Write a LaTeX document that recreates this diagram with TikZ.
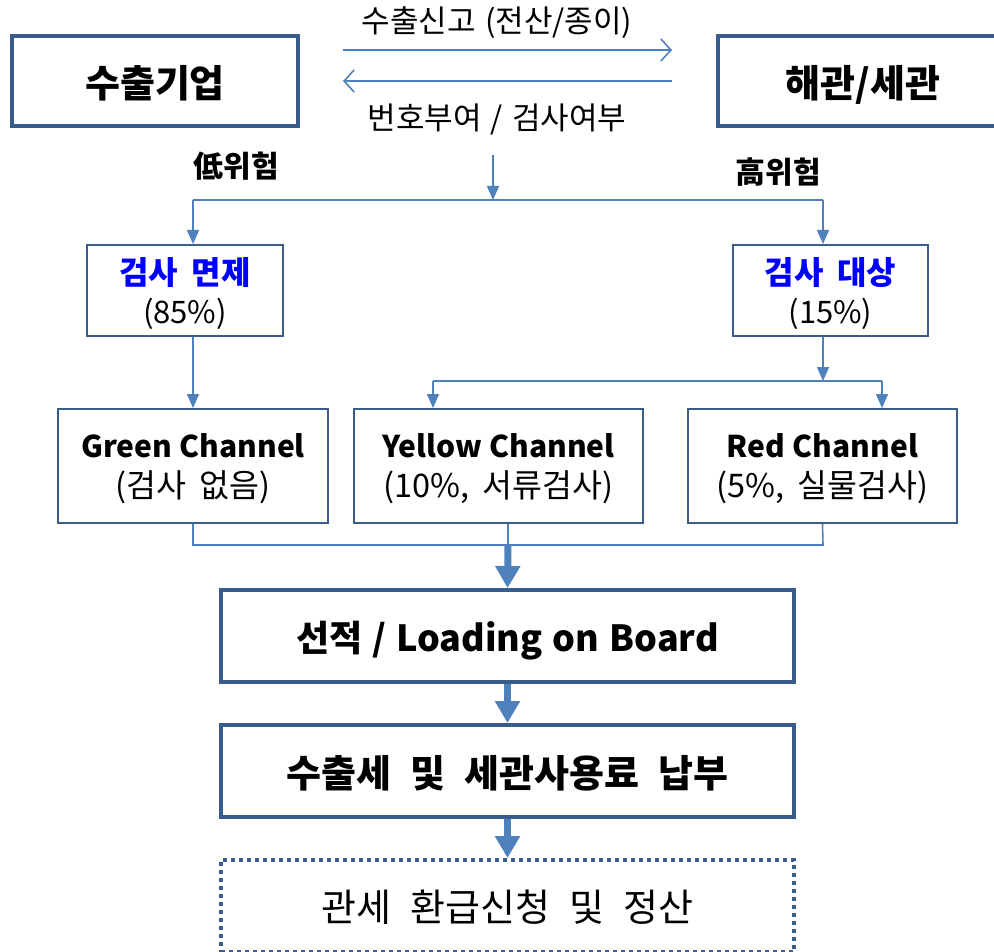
\documentclass[tikz,border=0pt]{standalone}
\usepackage{fontspec}
\setmainfont{Noto Sans CJK KR}
\usepackage{xcolor}
\usepackage{tikz}
\usetikzlibrary{positioning,calc,arrows.meta}
\definecolor{boxline}{RGB}{56,93,138}
\definecolor{linkblue}{RGB}{79,129,189}
\newcommand\bigfont{\bfseries\fontsize{38}{42}\selectfont\spaceskip 0.5em\relax}
\newcommand\latinfont{\bfseries\fontsize{36}{42}\selectfont\spaceskip 0.28em\relax}
\newcommand\stepfont{\fontsize{38}{42}\selectfont\spaceskip 0.5em\relax}
\newcommand\splitfont{\fontsize{31}{39}\selectfont\spaceskip 0.45em\relax}
\newcommand\splithead{\bfseries\fontsize{32}{39}\selectfont\color{blue}}
\newcommand\chanfont{\fontsize{32.5}{40}\selectfont\spaceskip 0.4em\relax}
\newcommand\chanhead{\bfseries\fontsize{30}{40}\selectfont\spaceskip 0.25em\relax}
\newcommand\msgfont{\fontsize{31}{34}\selectfont\spaceskip 0.3em\relax}

\begin{document}
\begin{tikzpicture}[x=1pt,y=-1pt,
  heavybox/.style={draw=boxline,line width=4pt,inner sep=0pt,align=center,minimum width=573pt,minimum height=92pt,text depth=0pt},
  lightbox/.style={draw=boxline,line width=2pt,inner sep=0pt,align=center,minimum height=91pt,text depth=0pt,font=\splitfont},
  chanbox/.style={lightbox,minimum height=114pt,font=\chanfont},
  bigtext/.style={font=\bigfont},
  msg/.style={inner sep=0pt,font=\msgfont},
  risk/.style={inner sep=0pt,font=\bfseries\fontsize{30}{32}\selectfont},
  link/.style={draw=linkblue,line width=1.6pt},
  tip/.style={-{Triangle[length=14pt,width=12pt]}},
  barb/.style={-{Straight Barb[length=10pt,width=22pt]}},
  bigarrow/.style={draw=linkblue,line width=7pt,-{Triangle[length=22pt,width=24pt]}}]
\useasboundingbox (0,0) rectangle (994,952);

% top row
\node[heavybox,bigtext,minimum width=286pt,minimum height=90pt] (exporter) at (155,81) {수출기업};
\node[heavybox,bigtext,minimum width=290pt,minimum height=90pt] (customs) at (863,81) {해관/세관};

\coordinate (declL) at (343,50);
\coordinate (declR) at (672,50);
\coordinate (replyR) at (672,81);
\coordinate (replyL) at (343,81);
\draw[link,barb] (declL) -- (declR);
\draw[link,barb] (replyR) -- (replyL);
\node[msg] (decl) at (497,23) {수출신고 (전산/종이)};
\node[msg] (reply) at (497,119) {번호부여 / 검사여부};

% risk split
\node[risk] (lowrisk) at (236,166) {低위험};
\node[risk] (highrisk) at (778,172) {高위험};
\coordinate (decide) at (493,155);
\coordinate (fork) at (493,200);
\coordinate (forkL) at (193,200);
\coordinate (forkR) at (823,200);
\draw[link,tip] (decide) -- (fork);
\draw[link] (forkL) -- (forkR);

\node[lightbox,minimum width=196pt] (exempt) at (185,290.5) {{\splithead 검사 면제}\\(85\%)};
\node[lightbox,minimum width=195pt] (target) at (830.5,290.5) {{\splithead 검사 대상}\\(15\%)};
\draw[link,tip] (forkL) -- (forkL |- exempt.north);
\draw[link,tip] (forkR) -- (forkR |- target.north);

% channels
\node[chanbox,minimum width=270pt] (green) at (193,466) {{\chanhead Green Channel}\\(검사 없음)};
\node[chanbox,minimum width=289pt] (yellow) at (498.5,466) {{\chanhead Yellow Channel}\\(10\%, 서류검사)};
\node[chanbox,minimum width=269pt] (red) at (822.5,466) {{\chanhead Red Channel}\\(5\%, 실물검사)};

\draw[link,tip] (forkL |- exempt.south) -- (forkL |- green.north);
\coordinate (split) at (823,381);
\coordinate (splitL) at (433,381);
\coordinate (splitR) at (882,381);
\draw[link,tip] (forkR |- target.south) -- (split);
\draw[link] (splitL) -- (splitR);
\draw[link,tip] (splitL) -- (splitL |- yellow.north);
\draw[link,tip] (splitR) -- (splitR |- red.north);

% join
\coordinate (joinL) at (193,545);
\coordinate (joinM) at (508,545);
\coordinate (joinR) at (823,545);
\draw[link] (green.south) -- (joinL) -- (joinR) -- (red.south);
\draw[link] (yellow.south -| joinM) -- (joinM);

% bottom steps
\node[heavybox,font=\latinfont] (loading) at (507.5,636) {선적 / Loading on Board};
\node[heavybox,bigtext] (payment) at (507.5,771) {수출세 및 세관사용료 납부};
\node[heavybox,dash pattern=on 4pt off 4pt,font=\stepfont] (refund) at (507.5,906) {관세 환급신청 및 정산};

\draw[bigarrow] (joinM) -- (loading.north);
\draw[bigarrow] (loading.south) -- (payment.north);
\draw[bigarrow] (payment.south) -- (refund.north);
\end{tikzpicture}
\end{document}
